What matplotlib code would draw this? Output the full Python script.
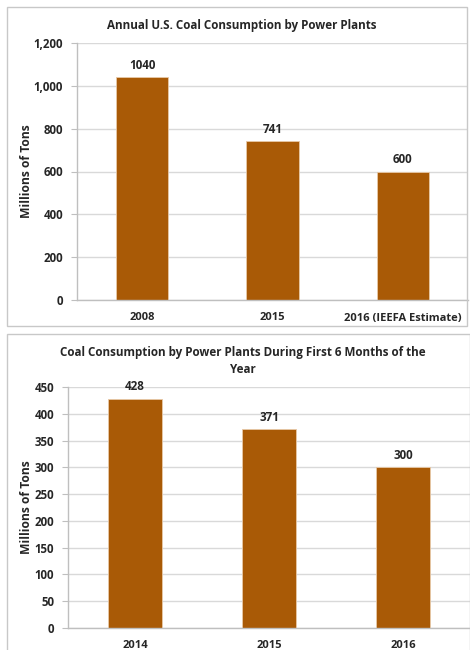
import matplotlib
matplotlib.use("Agg")
import matplotlib.pyplot as plt
from matplotlib.patches import Rectangle

plt.rcParams['font.family'] = ['Open Sans', 'DejaVu Sans']
plt.rcParams['font.weight'] = 'bold'

# Annual consumption
annual_years = ["2008", "2015", "2016 (IEEFA Estimate)"]
annual_tons = [1040, 741, 600]
annual_ticks = [0, 200, 400, 600, 800, 1000, 1200]

# First half of year consumption
half_years = ["2014", "2015", "2016"]
half_tons = [428, 371, 300]
half_ticks = [0, 50, 100, 150, 200, 250, 300, 350, 400, 450]

BAR = "#A95A06"
GRID = "#D9D9D9"
SPINE = "#BFBFBF"
TEXT = "#262626"

W, H = 470, 650
fig = plt.figure(figsize=(W / 100, H / 100), dpi=100)


def fx(x):
    return x / W


def fy(y):
    return 1 - y / H


# Chart frames
for (x0, y0, x1, y1) in [(7, 7, 467, 326), (7, 334, 470, 652)]:
    fig.patches.append(Rectangle((fx(x0), fy(y1)), fx(x1 - x0), (y1 - y0) / H,
                                 transform=fig.transFigure, fill=False,
                                 edgecolor="#C8C8C8", linewidth=1.0))


def draw(ax, cats, vals, ticks, fmt, label_x):
    ax.set_axisbelow(True)
    x = range(len(cats))
    bars = ax.bar(x, vals, width=0.4, color=BAR, edgecolor="#E8C9A8", linewidth=0.6)
    ax.set_xlim(-0.5, len(cats) - 0.5)
    ax.set_ylim(0, ticks[-1])
    ax.set_yticks(ticks)
    ax.set_yticklabels([fmt(t) for t in ticks], fontweight="bold")
    ax.set_xticks(list(x))
    ax.set_xticklabels(cats, fontweight="bold")
    ax.yaxis.grid(True, color=GRID, linewidth=1.0)
    for s in ["top", "right"]:
        ax.spines[s].set_visible(False)
    for s in ["left", "bottom"]:
        ax.spines[s].set_color(SPINE)
        ax.spines[s].set_linewidth(1.0)
    ax.tick_params(axis="y", length=4, color=SPINE, labelsize=8.3, labelcolor=TEXT, pad=6)
    ax.tick_params(axis="x", length=0, labelsize=8, labelcolor=TEXT, pad=9)
    ax.set_ylabel("Millions of Tons", fontsize=8.7, color=TEXT, fontweight="bold")
    ax.yaxis.set_label_coords(label_x, 0.5)
    for b, v in zip(bars, vals):
        ax.annotate(str(v), (b.get_x() + b.get_width() / 2, v), xytext=(0, 4),
                    textcoords="offset points", ha="center", va="bottom",
                    fontsize=8.4, color=TEXT, fontweight="bold")


ax1 = fig.add_axes([fx(77), fy(300), fx(468 - 77), (300 - 43) / H])
draw(ax1, annual_years, annual_tons, annual_ticks, lambda t: f"{t:,}", -0.112)
fig.text(fx(242), fy(26), "Annual U.S. Coal Consumption by Power Plants",
         ha="center", va="center", fontsize=8.4, color=TEXT, fontweight="bold")

ax2 = fig.add_axes([fx(68), fy(628), fx(470 - 68), (628 - 387) / H])
draw(ax2, half_years, half_tons, half_ticks, lambda t: f"{t}", -0.087)
fig.text(fx(243), fy(361), "Coal Consumption by Power Plants During First 6 Months of the\nYear",
         ha="center", va="center", fontsize=8.4, color=TEXT, linespacing=1.4,
         fontweight="bold")

fig.savefig("out.png", dpi=100, facecolor="white")
